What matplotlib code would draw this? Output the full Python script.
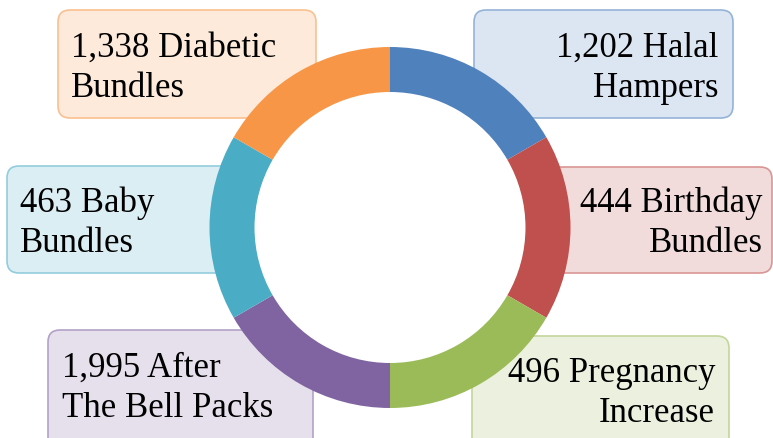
import matplotlib.pyplot as plt
import numpy as np
from matplotlib.patches import FancyBboxPatch, Circle

plt.rcParams['font.family'] = 'serif'
plt.rcParams['font.serif'] = ['Liberation Serif', 'Times New Roman', 'DejaVu Serif']

# categories in clockwise order starting from the top of the ring
counts = [1202, 444, 496, 1995, 463, 1338]
names = ["Halal\nHampers", "Birthday\nBundles", "Pregnancy\nIncrease",
         "After\nThe Bell Packs", "Baby\nBundles", "Diabetic\nBundles"]
ring_colors = ["#4F81BD", "#C0504D", "#9BBB59", "#8064A2", "#4BACC6", "#F79646"]
box_fills = ["#DCE6F2", "#F2DCDB", "#EBF1DE", "#E6E0EC", "#DAEEF3", "#FDEADA"]
box_edges = ["#95B3D7", "#D99694", "#C3D69B", "#B3A2C7", "#93CDDD", "#FAC090"]

W, H = 773, 438
fig = plt.figure(figsize=(W / 100, H / 100), dpi=100)
ax = fig.add_axes([0, 0, 1, 1])
ax.set_xlim(0, W)
ax.set_ylim(0, H)
ax.set_aspect("equal")
ax.axis("off")

# box layout (x0, y0, x1, y1 in pixels from top-left), text anchor, alignment
boxes = [
    (474, 10, 733, 118, 718, 57, "right"),
    (520, 167, 772, 273, 763, 212, "right"),
    (472, 336, 729, 450, 715, 382, "right"),
    (48, 330, 313, 450, 62, 377, "left"),
    (7, 166, 265, 273, 20, 212, "left"),
    (58, 10, 316, 118, 71, 57, "left"),
]

for i, (x0, y0, x1, y1, tx, ty, ha) in enumerate(boxes):
    r = 12
    patch = FancyBboxPatch((x0 + r, H - y1 + r), (x1 - x0) - 2 * r, (y1 - y0) - 2 * r,
                           boxstyle="round,pad=%d" % r,
                           facecolor=box_fills[i], edgecolor=box_edges[i],
                           linewidth=1.2, zorder=1)
    ax.add_patch(patch)
    first, second = names[i].split("\n")
    lines = ["{:,} {}".format(counts[i], first), second]
    for k, line in enumerate(lines):
        ax.text(tx, H - (ty + 40 * k), line, ha=ha, va="baseline",
                fontsize=25, color="black", zorder=3)

# white hole so the boxes do not show through the middle
ax.add_patch(Circle((390, H - 227.5), 136, facecolor="white", edgecolor="none", zorder=1.5))

# ring drawn with equal slices
wedges, _ = ax.pie(np.ones(len(counts)), colors=ring_colors, startangle=90,
                   counterclock=False, center=(390, H - 227.5), radius=180.5,
                   wedgeprops=dict(width=45, linewidth=0))
for w in wedges:
    w.set_zorder(2)

ax.set_xlim(0, W)
ax.set_ylim(0, H)
fig.savefig("out.png", dpi=100)
